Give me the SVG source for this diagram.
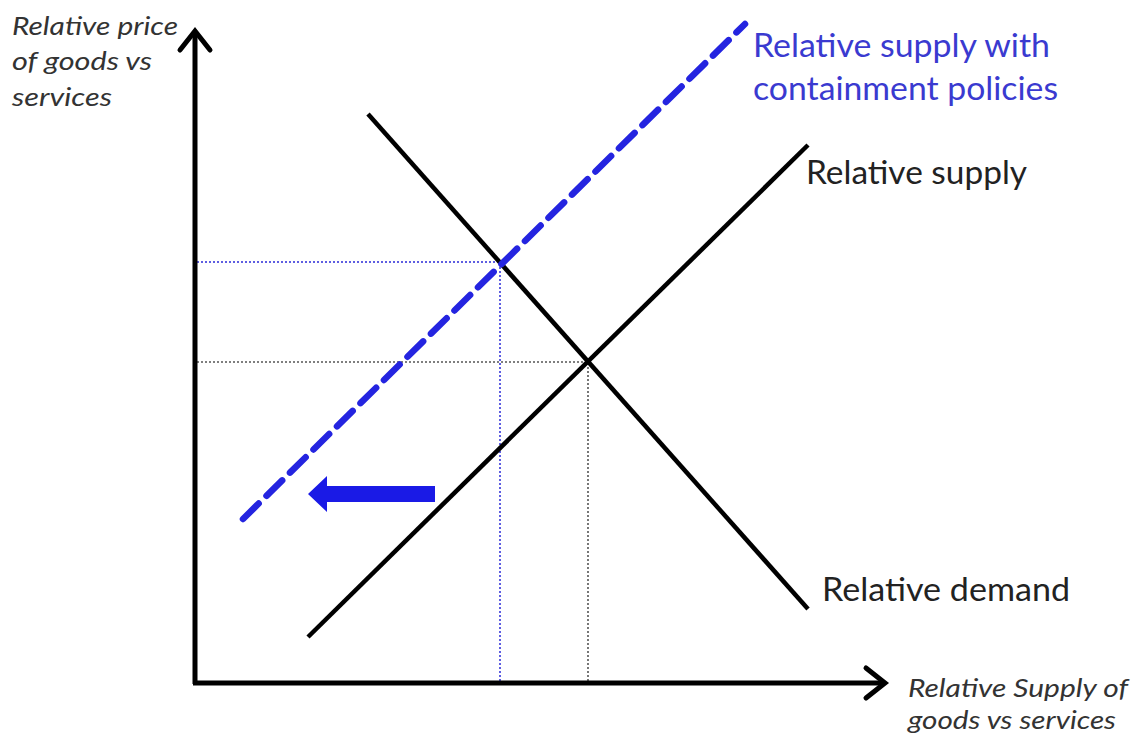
<svg xmlns="http://www.w3.org/2000/svg" width="1139" height="735" viewBox="0 0 1139 735">
<style>
.axis{stroke:#000;stroke-width:5;fill:none;stroke-linecap:butt}
.head{stroke:#000;stroke-width:5;fill:none;stroke-linecap:round;stroke-linejoin:miter}
.curve{stroke:#000;stroke-width:4.5;fill:none}
.bluedash{stroke:#2424e0;stroke-width:6.5;fill:none;stroke-dasharray:22 11;stroke-linecap:round}
.guideb{stroke:#2a2ad8;stroke-width:1.5;stroke-dasharray:2 2;fill:none}
.guideg{stroke:#555;stroke-width:1.6;stroke-dasharray:2 2;fill:none}
.lbl{font-family:Lato,"Liberation Sans",sans-serif;font-size:32px;fill:#222}
.blue{fill:#3a3ad0}
.ax{font-family:Lato,"Liberation Sans",sans-serif;font-size:26px;font-style:italic;fill:#333}
</style>
<rect width="1139" height="735" fill="#fff"/>
<g id="guides">
<polyline class="guideb" points="197,262 500,262 500,681"/>
<polyline class="guideg" points="197,362 588,362 588,681"/>
</g>
<g id="axes">
<path class="axis" d="M195,684 V32"/>
<path class="head" d="M180,50 L195,31 L210,50"/>
<path class="axis" d="M193,683 H884"/>
<path class="head" d="M866,668 L885,683 L866,698"/>
</g>
<g id="connectors">
<line id="demand-line" class="curve" x1="368" y1="114" x2="808" y2="609"/>
<line id="supply-line" class="curve" x1="308" y1="637" x2="808" y2="145"/>
<line id="containment-line" class="bluedash" x1="243" y1="519" x2="745" y2="24"/>
<polygon id="shift-arrow" fill="#1a1ae6" points="435,486 327,486 327,476 308,494 327,512 327,502 435,502"/>
</g>
<g id="label-containment">
<text class="lbl blue" x="753" y="57" textLength="297" lengthAdjust="spacingAndGlyphs">Relative supply with</text>
<text class="lbl blue" x="753" y="100" textLength="305" lengthAdjust="spacingAndGlyphs">containment policies</text>
</g>
<g id="label-supply"><text class="lbl" x="806" y="184" textLength="221" lengthAdjust="spacingAndGlyphs">Relative supply</text></g>
<g id="label-demand"><text class="lbl" x="822" y="601" textLength="248" lengthAdjust="spacingAndGlyphs">Relative demand</text></g>
<g id="label-yaxis">
<text class="ax" x="12" y="35" textLength="166" lengthAdjust="spacingAndGlyphs">Relative price</text>
<text class="ax" x="12" y="70" textLength="140" lengthAdjust="spacingAndGlyphs">of goods vs</text>
<text class="ax" x="12" y="106" textLength="100" lengthAdjust="spacingAndGlyphs">services</text>
</g>
<g id="label-xaxis">
<text class="ax" x="908" y="697" textLength="220" lengthAdjust="spacingAndGlyphs">Relative Supply of</text>
<text class="ax" x="908" y="729" textLength="208" lengthAdjust="spacingAndGlyphs">goods vs services</text>
</g>
</svg>
